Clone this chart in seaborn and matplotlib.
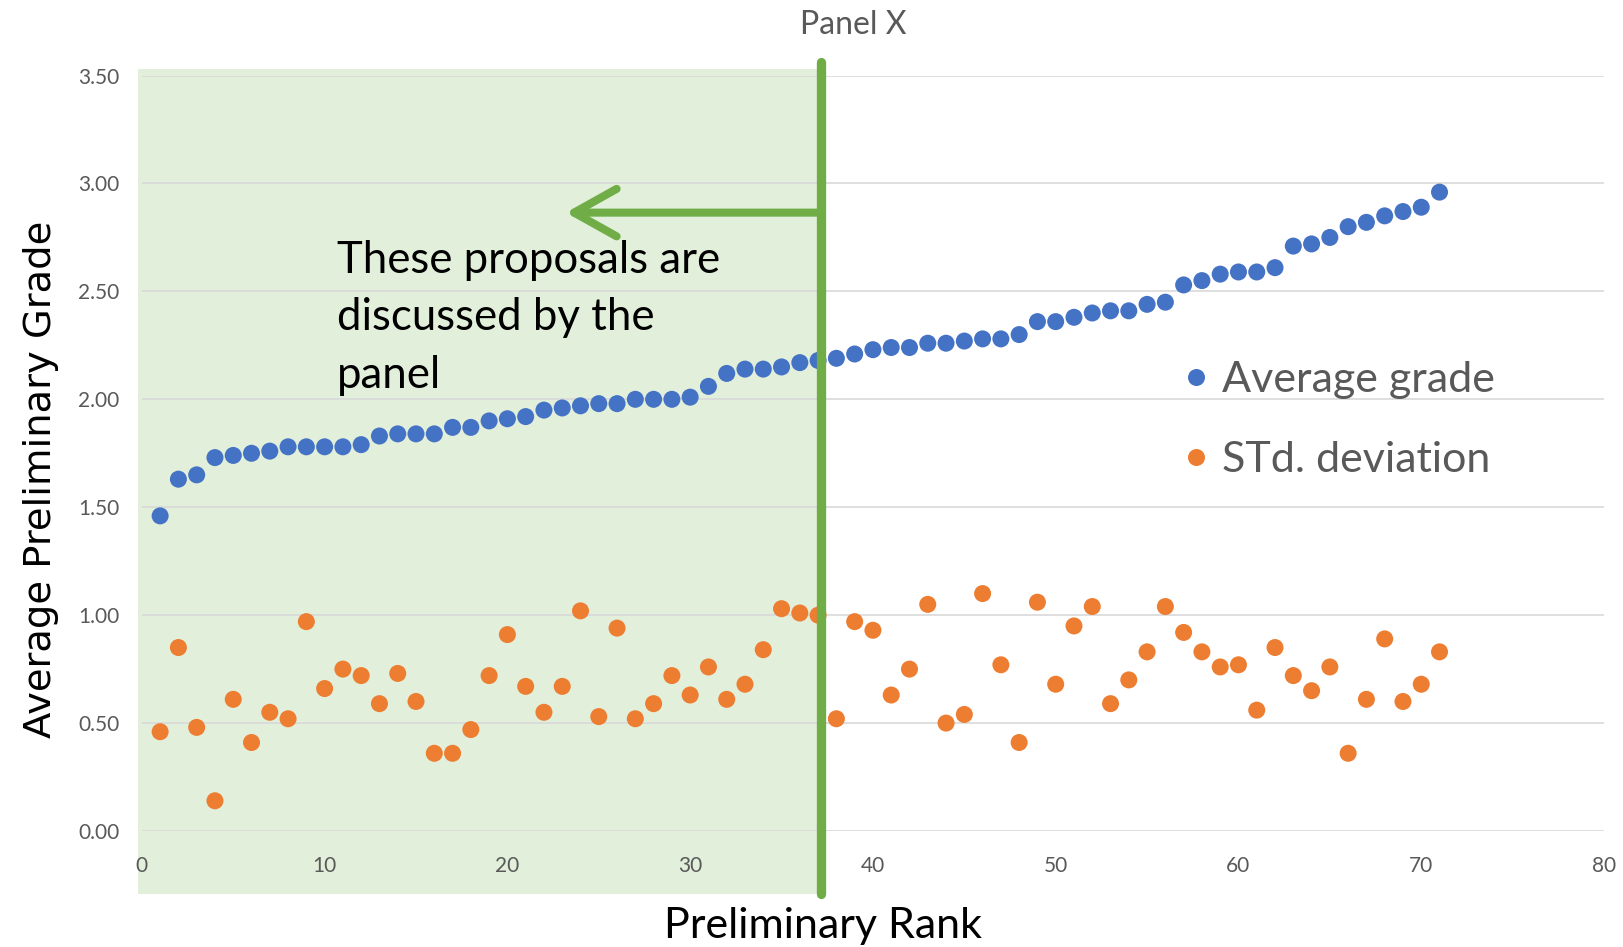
import pandas as pd
import matplotlib.pyplot as plt
import matplotlib.transforms as mtransforms
from matplotlib.patches import Rectangle
import seaborn as sns

# data
rank = list(range(1, 72))
avg_grade = [1.46, 1.63, 1.65, 1.73, 1.74, 1.75, 1.76, 1.78, 1.78, 1.78,
             1.78, 1.79, 1.83, 1.84, 1.84, 1.84, 1.87, 1.87, 1.90, 1.91,
             1.92, 1.95, 1.96, 1.97, 1.98, 1.98, 2.00, 2.00, 2.00, 2.01,
             2.06, 2.12, 2.14, 2.14, 2.15, 2.17, 2.18, 2.19, 2.21, 2.23,
             2.24, 2.24, 2.26, 2.26, 2.27, 2.28, 2.28, 2.30, 2.36, 2.36,
             2.38, 2.40, 2.41, 2.41, 2.44, 2.45, 2.53, 2.55, 2.58, 2.59,
             2.59, 2.61, 2.71, 2.72, 2.75, 2.80, 2.82, 2.85, 2.87, 2.89,
             2.96]
std_dev = [0.46, 0.85, 0.48, 0.14, 0.61, 0.41, 0.55, 0.52, 0.97, 0.66,
           0.75, 0.72, 0.59, 0.73, 0.60, 0.36, 0.36, 0.47, 0.72, 0.91,
           0.67, 0.55, 0.67, 1.02, 0.53, 0.94, 0.52, 0.59, 0.72, 0.63,
           0.76, 0.61, 0.68, 0.84, 1.03, 1.01, 1.00, 0.52, 0.97, 0.93,
           0.63, 0.75, 1.05, 0.50, 0.54, 1.10, 0.77, 0.41, 1.06, 0.68,
           0.95, 1.04, 0.59, 0.70, 0.83, 1.04, 0.92, 0.83, 0.76, 0.77,
           0.56, 0.85, 0.72, 0.65, 0.76, 0.36, 0.61, 0.89, 0.60, 0.68,
           0.83]
series_names = ['Average grade', 'STd. deviation']
series_colors = ['#4472C4', '#ED7D31']
cutoff = 37.15   # panel discussion line

df = pd.DataFrame({
    'rank': rank * 2,
    'value': avg_grade + std_dev,
    'series': [series_names[0]] * len(rank) + [series_names[1]] * len(rank),
})

sns.set_theme(style='white')
plt.rcParams['font.family'] = ['Lato', 'DejaVu Sans']

fig = plt.figure(figsize=(16.23, 9.47), dpi=100)
ax = fig.add_axes([0.0874, 0.1225, 0.9009, 0.7977])

# green "discussed" zone, reaches a bit outside the axes
trans = mtransforms.blended_transform_factory(ax.transData, ax.transAxes)
ax.add_patch(Rectangle((-0.22, -0.083), cutoff + 0.22, 1.092, transform=trans,
                       facecolor='#E2EFDA', edgecolor='none', clip_on=False, zorder=0.1))

sns.scatterplot(data=df, x='rank', y='value', hue='series', hue_order=series_names,
                palette=series_colors, s=150, edgecolor='none', linewidth=0, ax=ax, zorder=3)

ax.set_xlim(0, 80)
ax.set_ylim(0, 3.5)
ax.set_xticks(range(0, 81, 10))
ax.set_yticks([0, 0.5, 1.0, 1.5, 2.0, 2.5, 3.0, 3.5])
ax.set_yticklabels([f'{v:.2f}' for v in ax.get_yticks()])
ax.yaxis.grid(True, color='#D9D9D9', linewidth=1.2)
ax.xaxis.grid(False)
ax.set_axisbelow(True)
for s in ax.spines.values():
    s.set_visible(False)
ax.tick_params(axis='both', length=0, labelsize=15, labelcolor='#595959')
ax.tick_params(axis='y', pad=16)
ax.tick_params(axis='x', pad=18)

ax.set_xlabel('Preliminary Rank', fontsize=31, color='black')
ax.xaxis.set_label_coords(0.466, -0.1)
ax.set_ylabel('Average Preliminary Grade', fontsize=27.7, color='black', family='DejaVu Sans')
ax.yaxis.set_label_coords(-0.057, 0.465)

fig.text(0.526, 0.974, 'Panel X', fontsize=23, color='#595959', ha='center', va='center')

# cutoff line and arrow
ax.plot([cutoff, cutoff], [-0.083, 1.0175], transform=trans, color='#70AD47',
        linewidth=6.7, clip_on=False, zorder=4)
ax.annotate('', xy=(23.2, 2.865), xytext=(cutoff, 2.865),
            arrowprops=dict(arrowstyle='->,head_length=0.34,head_width=0.19', mutation_scale=90,
                            color='#70AD47', lw=5.8, shrinkA=0, shrinkB=0, capstyle='round'),
            zorder=4)
ax.text(10.67, 2.74, 'These proposals are\ndiscussed by the\npanel', fontsize=31.5,
        color='black', ha='left', va='top', linespacing=1.5)

sns.move_legend(ax, 'upper left', bbox_to_anchor=(0.705, 0.66), bbox_transform=fig.transFigure,
                frameon=False, title=None, fontsize=31, labelcolor='#595959',
                handlelength=0.6, handletextpad=0.3, labelspacing=0.98)

fig.savefig('out.png', dpi=100)
